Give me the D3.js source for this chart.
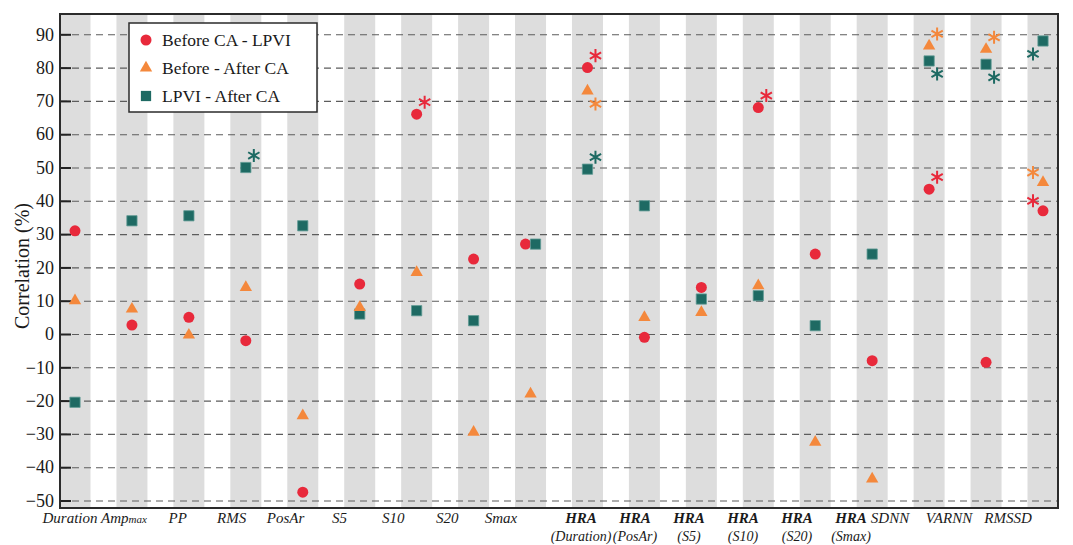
<!DOCTYPE html>
<html>
<head>
<meta charset="utf-8">
<script src="https://cdn.jsdelivr.net/npm/d3@7"></script>
<style>
   body { margin: 0; background: #fff; }
   svg text { font-family: "Liberation Serif", "Times New Roman", serif; fill: #1a1a1a; }
</style>
</head>
<body>
<div id="chart"></div>
<script>
// categories along the x axis
const categories = ["Duration", "Ampmax", "PP", "RMS", "PosAr", "S5", "S10", "S20", "Smax",
   "HRA (Duration)", "HRA (PosAr)", "HRA (S5)", "HRA (S10)", "HRA (S20)", "HRA (Smax)",
   "SDNN", "VARNN", "RMSSD"];
// label pieces: main word, small suffix, second line
const labelMain = ["Duration", "Amp", "PP", "RMS", "PosAr", "S5", "S10", "S20", "Smax",
   "HRA", "HRA", "HRA", "HRA", "HRA", "HRA", "SDNN", "VARNN", "RMSSD"];
const labelSmall = ["", "max", "", "", "", "", "", "", "", "", "", "", "", "", "", "", "", ""];
const labelSecond = ["", "", "", "", "", "", "", "", "",
   "(Duration)", "(PosAr)", "(S5)", "(S10)", "(S20)", "(Smax)", "", "", ""];

// correlation (%) per comparison
const seriesNames = ["Before CA - LPVI", "Before - After CA", "LPVI - After CA"];
const beforeLpvi = [31, 2.7, 5, -2, -47.5, 15, 66, 22.5, 27, 80, -1, 14, 68, 24, -8, 43.5, -8.5, 37];
const beforeAfter = [10, 7.5, -0.3, 14, -24.5, 8, 18.5, -29.5, -18, 73, 5, 6.5, 14.5, -32.5, -43.5, 86.5, 85.5, 45.5];
const lpviAfter = [-20.5, 34, 35.5, 50, 32.5, 6, 7, 4, 27, 49.5, 38.5, 10.5, 11.5, 2.5, 24, 82, 81, 88];

// significant correlations (asterisks): category, series index, side of the marker
const stars = [
   { cat: "RMS", s: 2, side: "ur" },
   { cat: "S10", s: 0, side: "ur" },
   { cat: "HRA (Duration)", s: 0, side: "ur" },
   { cat: "HRA (Duration)", s: 1, side: "lr" },
   { cat: "HRA (Duration)", s: 2, side: "ur" },
   { cat: "HRA (S10)", s: 0, side: "ur" },
   { cat: "SDNN", s: 0, side: "ur" },
   { cat: "SDNN", s: 1, side: "ur" },
   { cat: "SDNN", s: 2, side: "lr" },
   { cat: "VARNN", s: 1, side: "ur" },
   { cat: "VARNN", s: 2, side: "lr" },
   { cat: "RMSSD", s: 0, side: "ul" },
   { cat: "RMSSD", s: 1, side: "ul" },
   { cat: "RMSSD", s: 2, side: "ll" }
];

const yTicks = [-50, -40, -30, -20, -10, 0, 10, 20, 30, 40, 50, 60, 70, 80, 90];

// ---- styles / layout ----
const colors = ["#e8293b", "#f4883c", "#1e6a63"];
const starOffset = { ur: [8, -12], lr: [8, 13], ul: [-10, -10], ll: [-10, 13] };
const width = 1073, height = 545;
const plotL = 60, plotR = 1058, plotT = 14, plotB = 508;

const svg = d3.select("#chart").append("svg")
   .attr("width", width)
   .attr("height", height);

const x = d3.scalePoint().domain(categories).range([75, 1043]);
// labels sit in three groups under the columns, like in the original figure
const xLabel = d3.scaleLinear().domain([0, 8, 9, 14, 15, 17]).range([70, 501, 581, 851, 890, 1008]);
const y = d3.scaleLinear().domain([-52.25, 96.1]).range([plotB, plotT]);

// grey bands
svg.append("g").selectAll("rect")
   .data(categories)
   .enter()
   .append("rect")
   .attr("x", d => x(d) - 15.5)
   .attr("y", plotT)
   .attr("width", 31)
   .attr("height", plotB - plotT)
   .attr("fill", "#dddddd");

// dashed grid lines
const grid = svg.append("g")
   .attr("transform", "translate(" + plotL + ",0)")
   .call(d3.axisLeft(y).tickValues(yTicks).tickSize(-(plotR - plotL)).tickFormat(""));
grid.select(".domain").remove();
grid.selectAll("line")
   .attr("stroke", "#5c5c5c")
   .attr("stroke-width", 1.1)
   .attr("stroke-dasharray", "7,5");

// y axis with inward ticks
const yAxis = svg.append("g")
   .attr("transform", "translate(" + plotL + ",0)")
   .call(d3.axisLeft(y).tickValues(yTicks).tickSize(-11).tickPadding(6));
yAxis.select(".domain").remove();
yAxis.selectAll("line").attr("stroke", "#222").attr("stroke-width", 2);
yAxis.selectAll("text")
   .attr("font-size", 18)
   .attr("font-family", "Liberation Serif")
   .attr("fill", "#1a1a1a");

// frame
svg.append("rect")
   .attr("x", plotL)
   .attr("y", plotT)
   .attr("width", plotR - plotL)
   .attr("height", plotB - plotT)
   .attr("fill", "none")
   .attr("stroke", "#2b2b2b")
   .attr("stroke-width", 2);

// y title
svg.append("text")
   .attr("transform", "translate(29," + ((plotT + plotB) / 2 + 5) + ") rotate(-90)")
   .attr("text-anchor", "middle")
   .attr("font-size", 20)
   .text("Correlation (%)");

// x labels
const xl = svg.append("g").selectAll("g")
   .data(categories)
   .enter()
   .append("g")
   .attr("transform", (d, i) => "translate(" + xLabel(i) + ",0)");
xl.append("text")
   .attr("y", 523)
   .attr("text-anchor", "middle")
   .attr("font-size", 15)
   .attr("font-style", "italic")
   .attr("font-weight", (d, i) => labelSecond[i] ? "bold" : "normal")
   .each(function (d, i) {
      const t = d3.select(this);
      t.append("tspan").text(labelMain[i]);
      if (labelSmall[i]) t.append("tspan").attr("font-size", 11).text(labelSmall[i]);
   });
xl.append("text")
   .attr("y", 541)
   .attr("text-anchor", "middle")
   .attr("font-size", 14)
   .attr("font-style", "italic")
   .text((d, i) => labelSecond[i]);

// markers
const allSeries = [beforeLpvi, beforeAfter, lpviAfter];
// nudge circle and square apart when they would sit on top of each other
const nudge = (s, i) => {
   if (Math.abs(beforeLpvi[i] - lpviAfter[i]) < 1.5) {
      if (s === 0) return -5;
      if (s === 2) return 5;
   }
   return 0;
};
const px = (s, i) => x(categories[i]) + nudge(s, i);

const shapes = [d3.symbolCircle, d3.symbolTriangle, d3.symbolSquare];
const sizes = [95, 66, 105];
const drawOrder = [0, 2, 1];

drawOrder.forEach(s => {
   svg.append("g").selectAll("path")
      .data(allSeries[s])
      .enter()
      .append("path")
      .attr("d", d3.symbol().type(shapes[s]).size(sizes[s]))
      .attr("transform", (d, i) => "translate(" + px(s, i) + "," + y(d) + ")")
      .attr("fill", colors[s])
      .attr("stroke", s === 2 ? "#5f9a94" : "none")
      .attr("stroke-width", 0.8);
});

// asterisks
svg.append("g").selectAll("path")
   .data(stars)
   .enter()
   .append("path")
   .attr("d", d3.symbol().type(d3.symbolAsterisk).size(120))
   .attr("transform", d => {
      const i = categories.indexOf(d.cat);
      const o = starOffset[d.side];
      return "translate(" + (px(d.s, i) + o[0]) + "," + (y(allSeries[d.s][i]) + o[1]) + ")";
   })
   .attr("fill", "none")
   .attr("stroke", d => colors[d.s])
   .attr("stroke-width", 2);

// legend
const legend = svg.append("g").attr("transform", "translate(129,23)");
legend.append("rect")
   .attr("width", 188)
   .attr("height", 89)
   .attr("fill", "#fff")
   .attr("stroke", "#2b2b2b")
   .attr("stroke-width", 1.5);
const items = legend.selectAll("g.item")
   .data(seriesNames)
   .enter()
   .append("g")
   .attr("class", "item")
   .attr("transform", (d, i) => "translate(17," + (17 + i * 28) + ")");
items.append("path")
   .attr("d", (d, i) => d3.symbol().type(shapes[i]).size(sizes[i])())
   .attr("fill", (d, i) => colors[i]);
items.append("text")
   .attr("x", 16)
   .attr("y", 6)
   .attr("font-size", 17.5)
   .text(d => d);
</script>
</body>
</html>
